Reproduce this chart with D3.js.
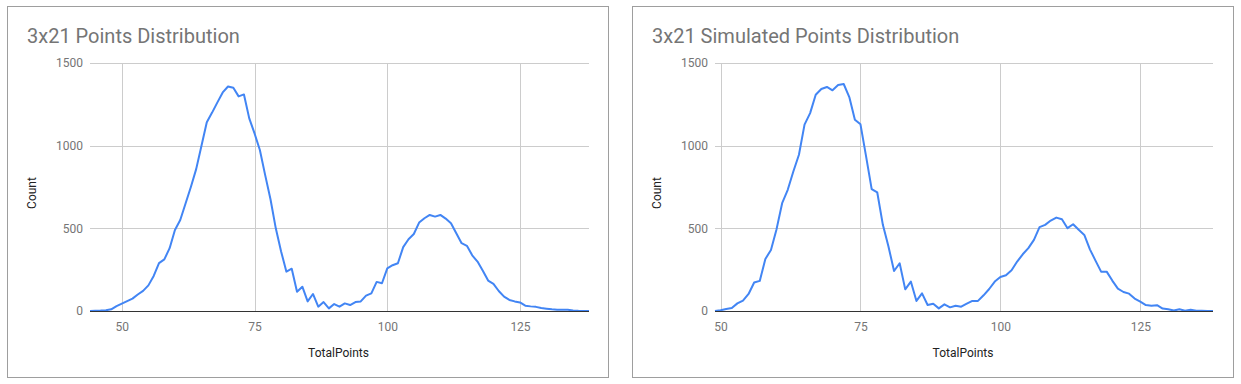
<!DOCTYPE html>
<html>
<head>
<meta charset="utf-8">
<script src="https://cdn.jsdelivr.net/npm/d3@7"></script>
<style>
    body { margin: 0; background: #fff; }
    svg { display: block; font-family: Roboto, "Noto Sans", sans-serif; }
</style>
</head>
<body>
<svg id="grafico" width="1241" height="384"></svg>
<script>
// pontos do primeiro grafico (x = TotalPoints, a partir de 44)
var pontosInicio = 44;
var pontosContagem = [
    0, 2, 3, 5, 10, 30, 45, 60, 75, 100,
    122, 155, 212, 290, 312, 380, 490, 550, 650, 750,
    858, 1000, 1142, 1200, 1262, 1322, 1358, 1350, 1298, 1310,
    1165, 1074, 974, 822, 676, 500, 360, 238, 256, 116,
    147, 58, 103, 26, 54, 16, 42, 26, 46, 36,
    54, 58, 93, 107, 176, 168, 258, 277, 289, 386,
    434, 466, 535, 561, 581, 571, 581, 559, 531, 470,
    410, 394, 337, 299, 244, 184, 164, 121, 87, 67,
    58, 52, 32, 28, 25, 18, 14, 10, 8, 7,
    8, 3, 1, 0, 0
];

// pontos do segundo grafico (simulado, a partir de 49)
var simuladoInicio = 49;
var simuladoContagem = [
    0, 5, 12, 18, 46, 63, 103, 172, 182, 315,
    369, 495, 652, 733, 844, 945, 1127, 1197, 1308, 1343,
    1355, 1335, 1367, 1373, 1294, 1157, 1129, 935, 737, 717,
    521, 390, 242, 289, 131, 178, 61, 107, 36, 44,
    16, 40, 22, 32, 26, 44, 61, 61, 95, 133,
    178, 206, 216, 246, 299, 343, 380, 430, 507, 521,
    547, 565, 555, 501, 525, 491, 460, 373, 305, 238,
    238, 184, 135, 115, 105, 75, 57, 36, 32, 35,
    15, 10, 3, 10, 2, 8, 1, 1, 0, 0
];

var ticksX = [50, 75, 100, 125];
var ticksY = [0, 500, 1000, 1500];

var titulos = ["3x21 Points Distribution", "3x21 Simulated Points Distribution"];
var tituloX = "TotalPoints";
var tituloY = "Count";

var svg = d3.select("#grafico");

function montarSerie(inicio, valores) {
    return valores.map(function(v, i) {
        return { x: inicio + i, y: v };
    });
}

function desenharGrafico(cfg) {
    var g = svg.append("g");

    // moldura
    g.append("rect")
        .attr("x", cfg.caixaX + 0.5)
        .attr("y", 6.5)
        .attr("width", cfg.caixaL)
        .attr("height", 371)
        .attr("fill", "#fff")
        .attr("stroke", "#9e9e9e")
        .attr("stroke-width", 1);

    g.append("text")
        .attr("x", cfg.caixaX + 20)
        .attr("y", 43)
        .attr("fill", "#757575")
        .attr("font-size", "20px")
        .text(cfg.titulo);

    var escalaX = d3.scaleLinear()
        .domain(d3.extent(cfg.dados, function(d) { return d.x; }))
        .range([cfg.esq, cfg.dir]);
    var escalaY = d3.scaleLinear()
        .domain([0, 1500])
        .range([311, 63]);

    // grade vertical
    g.selectAll(".gradeX")
        .data(ticksX)
        .enter().append("line")
        .attr("x1", function(d) { return Math.round(escalaX(d)) + 0.5; })
        .attr("x2", function(d) { return Math.round(escalaX(d)) + 0.5; })
        .attr("y1", 63)
        .attr("y2", 311)
        .attr("stroke", "#cccccc");

    // grade horizontal
    g.selectAll(".gradeY")
        .data(ticksY.filter(function(d) { return d > 0; }))
        .enter().append("line")
        .attr("x1", cfg.esq)
        .attr("x2", cfg.dir)
        .attr("y1", function(d) { return Math.round(escalaY(d)) + 0.5; })
        .attr("y2", function(d) { return Math.round(escalaY(d)) + 0.5; })
        .attr("stroke", "#cccccc");

    var eixoX = d3.axisBottom(escalaX).tickValues(ticksX).tickSize(0).tickPadding(11);
    var gx = g.append("g")
        .attr("transform", "translate(0,311)")
        .call(eixoX);
    gx.select(".domain").remove();
    gx.selectAll("text")
        .attr("fill", "#757575")
        .attr("font-size", "12px")
        .attr("font-family", "Roboto, sans-serif");

    var eixoY = d3.axisLeft(escalaY).tickValues(ticksY).tickFormat(d3.format("d"))
        .tickSize(0).tickPadding(7);
    var gy = g.append("g")
        .attr("transform", "translate(" + cfg.esq + ",0)")
        .call(eixoY);
    gy.select(".domain").remove();
    gy.selectAll("text")
        .attr("fill", "#757575")
        .attr("font-size", "12px")
        .attr("font-family", "Roboto, sans-serif");

    var linha = d3.line()
        .x(function(d) { return escalaX(d.x); })
        .y(function(d) { return escalaY(d.y); });

    g.append("path")
        .datum(cfg.dados)
        .attr("d", linha)
        .attr("fill", "none")
        .attr("stroke", "#4285f4")
        .attr("stroke-width", 2)
        .attr("stroke-linejoin", "round");

    // linha de base (zero)
    g.append("line")
        .attr("x1", cfg.esq)
        .attr("x2", cfg.dir)
        .attr("y1", 311.5)
        .attr("y2", 311.5)
        .attr("stroke", "#333333");

    g.append("text")
        .attr("x", (cfg.esq + cfg.dir) / 2 - 1)
        .attr("y", 357)
        .attr("text-anchor", "middle")
        .attr("fill", "#222")
        .attr("font-size", "12px")
        .text(tituloX);

    g.append("text")
        .attr("transform", "translate(" + (cfg.caixaX + 29) + ",193) rotate(-90)")
        .attr("text-anchor", "middle")
        .attr("fill", "#222")
        .attr("font-size", "12px")
        .text(tituloY);
}

desenharGrafico({
    caixaX: 7, caixaL: 601,
    esq: 90, dir: 589,
    titulo: titulos[0],
    dados: montarSerie(pontosInicio, pontosContagem)
});

desenharGrafico({
    caixaX: 632, caixaL: 601,
    esq: 715, dir: 1213,
    titulo: titulos[1],
    dados: montarSerie(simuladoInicio, simuladoContagem)
});
</script>
</body>
</html>
